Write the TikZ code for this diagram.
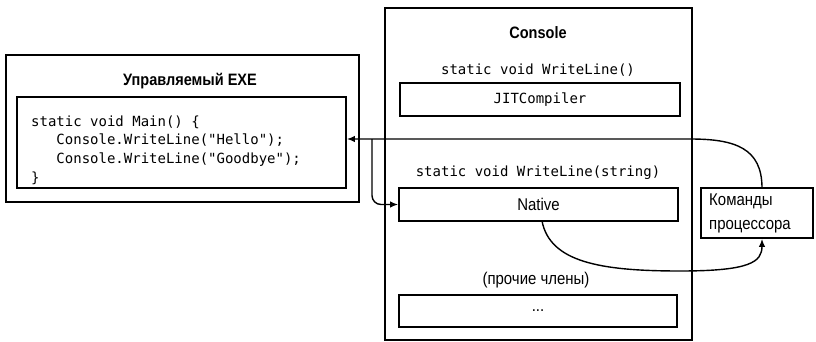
\documentclass[tikz,border=0pt]{standalone}
\usepackage{fontspec}
\setmainfont{Liberation Sans}
\newfontfamily\codefont{DejaVu Sans Mono}
\newfontfamily\narrowfont[FakeStretch=0.88]{Liberation Sans}
\usetikzlibrary{arrows.meta}

\tikzset{
  cadre/.style={draw, line width=1.8pt, inner sep=0pt},
  titre/.style={font=\narrowfont\bfseries\fontsize{16.5}{19}\selectfont},
  sig/.style={font=\codefont\fontsize{14}{18.7}\selectfont},
  texte/.style={font=\narrowfont\fontsize{17}{24}\selectfont},
  fleche/.style={->, >={Latex[length=8pt,width=6.5pt]}, line width=1.4pt}
}

\begin{document}
\begin{tikzpicture}[x=1pt, y=-1pt]
  \useasboundingbox (0,0) rectangle (816,342);

  % Le module gere (a gauche)
  \node[cadre, minimum width=353pt, minimum height=147pt] (exe) at (182.5,128.5) {};
  \node[titre] (exetitre) at (190,81) {Управляемый EXE};
  \node[cadre, minimum width=329pt, minimum height=91pt] (code) at (181.5,142.5) {};
  \node[sig, anchor=west, align=left, inner sep=0pt] (main) at (31,150)
    {static void Main() \{\\
     \ \ \ Console.WriteLine("Hello");\\
     \ \ \ Console.WriteLine("Goodbye");\\
     \}};

  % Le type Console et ses methodes
  \node[cadre, minimum width=307pt, minimum height=332pt] (console) at (538.5,174) {};
  \node[titre] (consoletitre) at (538,33) {Console};
  \node[sig] (sigA) at (538,70) {static void WriteLine()};
  \node[cadre, sig, minimum width=280pt, minimum height=33pt] (jit) at (540,99.5) {JITCompiler};
  \node[sig] (sigB) at (538,173) {static void WriteLine(string)};
  \node[cadre, texte, minimum width=279pt, minimum height=33pt] (native) at (538.5,204.5) {Native};
  \node[texte] (autres) at (536,280) {(прочие члены)};
  \node[cadre, texte, minimum width=278pt, minimum height=32pt] (points) at (538,311) {...};

  % Les instructions machine (a droite)
  \node[cadre, minimum width=112pt, minimum height=50pt] (cpu) at (757,213) {};
  \node[texte, anchor=west, align=left, inner sep=0pt] (cputexte) at (709,213) {Команды\\процессора};

  % Les appels
  \coordinate (retour) at (762,188);
  \coordinate (coude) at (690,139);
  \coordinate (branche) at (372,139);
  \draw[fleche] (retour) .. controls (762,148) and (735,139) .. (coude) -- (code.east |- coude);
  \draw[fleche, rounded corners=9pt] (branche) |- (native.west);
  \draw[fleche] (542,221) .. controls (550,262) and (600,271) .. (680,271)
    .. controls (750,271) and (762,262) .. (cpu.south -| retour);

\end{tikzpicture}
\end{document}
